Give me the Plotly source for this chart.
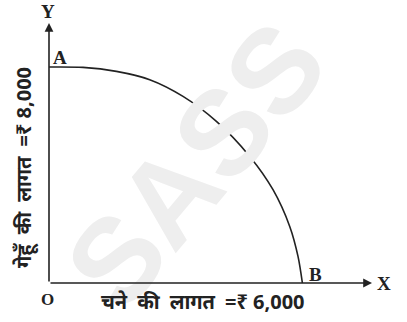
import plotly.graph_objects as go

# Production possibility curve: cost of gram (x) vs cost of wheat (y)
gram_cost = [0, 805, 1596, 2385, 3173, 3964, 4753, 5304, 5700, 5896, 6000]
wheat_cost = [8000, 7985, 7837, 7530, 6911, 5985, 4689, 3456, 2096, 985, 0]

gap = "\u2002"
x_label = f"चने{gap}की{gap}लागत{gap}=₹ 6,000"
y_label = f"गेहूँ{gap}की{gap}लागत{gap}=₹ 8,000"

W, H = 407, 322
ml, mr, mt, mb = 49, 35, 23, 39
plot_w = W - ml - mr
plot_h = H - mt - mb
x_max = 7648
y_max = 9630

ink = "#222222"
serif = "Liberation Serif"

fig = go.Figure()


def pos(px, py):
    """Pixel position in the page -> paper coordinates of the plot area."""
    return (px - ml) / plot_w, (H - mb - py) / plot_h


def note(text, px, py, font, angle=0):
    x, y = pos(px, py)
    fig.add_annotation(x=x, y=y, xref="paper", yref="paper", text=text,
                       showarrow=False, textangle=angle,
                       xanchor="center", yanchor="middle", font=font)


# Faint diagonal watermark behind the drawing
note("<b>SASS</b>", 195, 165,
     dict(family="Liberation Sans", size=120, color="#eeeeee"), angle=-50)

fig.add_trace(go.Scatter(
    x=gram_cost, y=wheat_cost, mode="lines",
    line=dict(color=ink, width=1.6, shape="spline", smoothing=0.8),
    hoverinfo="skip", showlegend=False,
))

# Axes with arrowheads
fig.add_annotation(x=x_max, y=0, ax=0, ay=0, xref="x", yref="y", axref="x", ayref="y",
                   text="", showarrow=True, arrowhead=2, arrowsize=1.1, arrowwidth=1.6,
                   arrowcolor=ink, standoff=0)
fig.add_annotation(x=0, y=y_max, ax=0, ay=0, xref="x", yref="y", axref="x", ayref="y",
                   text="", showarrow=True, arrowhead=2, arrowsize=1.1, arrowwidth=1.6,
                   arrowcolor=ink, standoff=0)


def letter(txt, px, py, size=19):
    note(f"<b>{txt}</b>", px, py, dict(family=serif, size=size, color=ink))


letter("Y", 48, 12)
letter("A", 60, 58)
letter("B", 315, 274)
letter("O", 47, 299, 17)
letter("X", 384, 283)

note(f"<b>{x_label}</b>", 203, 301, dict(family="Noto Sans", size=20, color=ink))
note(f"<b>{y_label}</b>", 24, 168, dict(family="Noto Sans", size=20, color=ink), angle=-90)

fig.update_xaxes(range=[0, x_max], visible=False, fixedrange=True)
fig.update_yaxes(range=[0, y_max], visible=False, fixedrange=True)
fig.update_layout(
    width=W, height=H, margin=dict(l=ml, r=mr, t=mt, b=mb),
    paper_bgcolor="white", plot_bgcolor="rgba(0,0,0,0)",
)

fig.write_html("out.html")
